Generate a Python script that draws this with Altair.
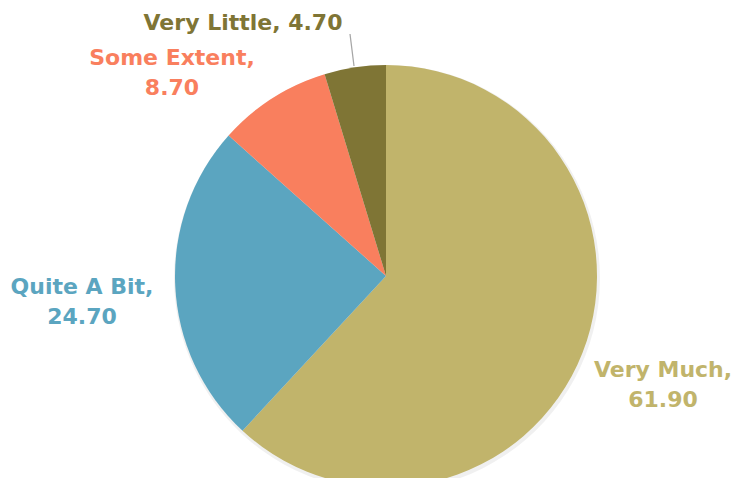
import altair as alt
import pandas as pd

categories = ["Very Much", "Quite A Bit", "Some Extent", "Very Little"]
values = [61.90, 24.70, 8.70, 4.70]
colors = ["#C1B46B", "#5BA5C0", "#F97F5E", "#7F7535"]

df = pd.DataFrame({"category": categories, "value": values, "idx": list(range(len(categories)))})

color_scale = alt.Scale(domain=categories, range=colors)

CX, CY, R = 378, 268, 211

base = alt.Chart(df)

shadow = base.mark_arc(outerRadius=R + 2, color="#000000", opacity=0.06).encode(
    theta=alt.Theta("value:Q", stack=True),
    order=alt.Order("idx:Q"),
    x=alt.value(CX + 1), y=alt.value(CY + 2),
)

pie = base.mark_arc(outerRadius=R).encode(
    theta=alt.Theta("value:Q", stack=True),
    color=alt.Color("category:N", scale=color_scale, legend=None),
    order=alt.Order("idx:Q"),
    x=alt.value(CX), y=alt.value(CY),
)

label_pos = {
    "Very Much": (655, 362, True),
    "Quite A Bit": (74, 279, True),
    "Some Extent": (164, 50, True),
    "Very Little": (235, 15, False),
}

layers = [shadow, pie]
for cat, (lx, ly, two) in label_pos.items():
    sep = ",\n" if two else ", "
    t = base.transform_filter(alt.datum.category == cat).transform_calculate(
        label=alt.datum.category + sep + alt.expr.format(alt.datum.value, ".2f")
    ).mark_text(
        font="DejaVu Sans", fontWeight="bold", fontSize=22, lineBreak="\n", lineHeight=30,
        align="center", baseline="middle",
    ).encode(
        text="label:N",
        color=alt.Color("category:N", scale=color_scale, legend=None),
        x=alt.value(lx), y=alt.value(ly),
    )
    layers.append(t)

leader = base.transform_filter(alt.datum.category == "Very Little").mark_rule(
    color="#A6A6A6", strokeWidth=1.2
).encode(x=alt.value(342), y=alt.value(26), x2=alt.value(346), y2=alt.value(58))
layers.append(leader)

chart = alt.layer(*layers).properties(
    width=728, height=470,
    autosize=alt.AutoSizeParams(type="fit", contains="padding"),
    padding=0,
    background="#FFFFFF",
).configure_view(strokeWidth=0)

chart.save("out.html", embed_options={"renderer": "svg", "actions": False})
